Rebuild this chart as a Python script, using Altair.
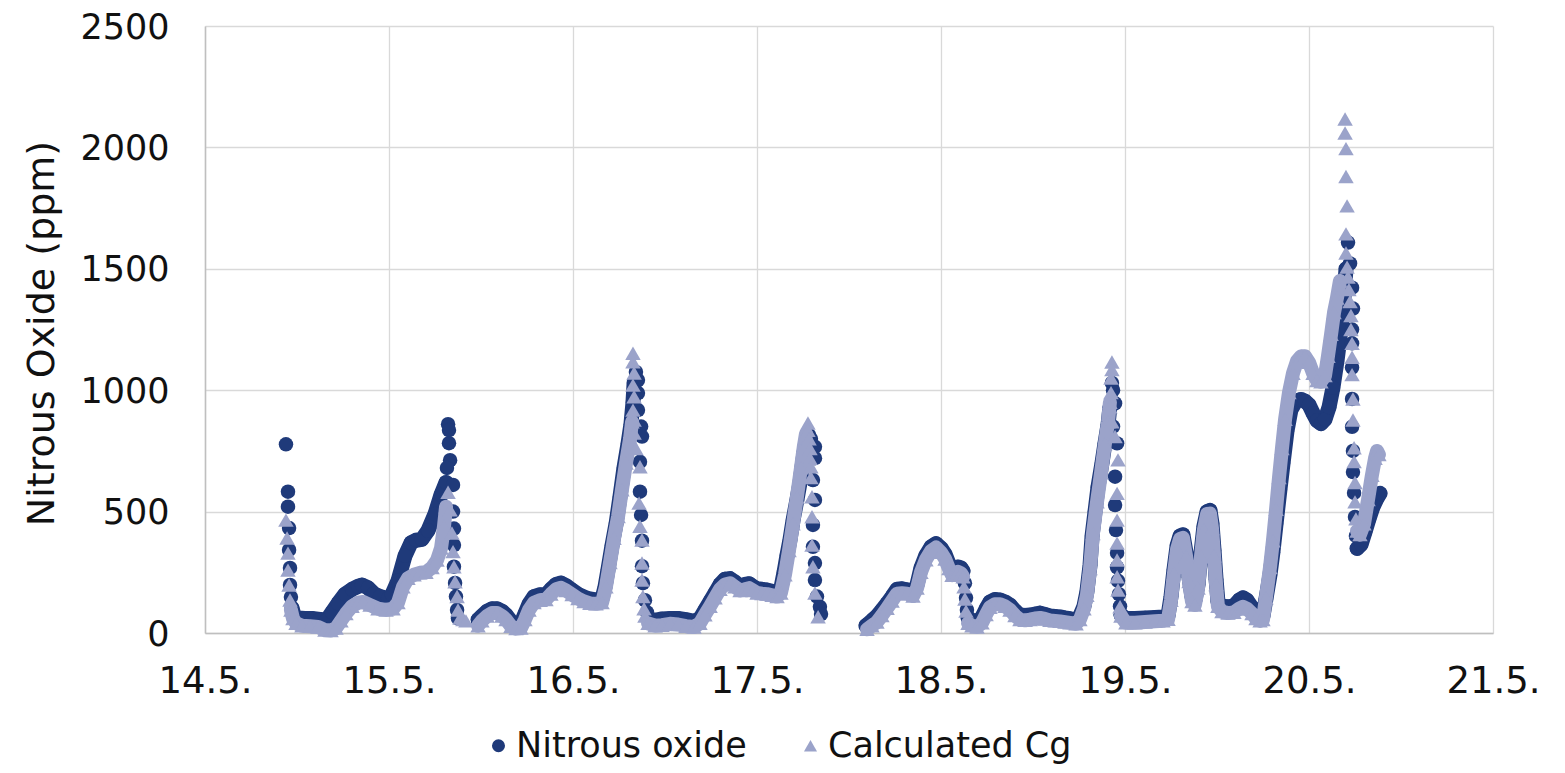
import json
import altair as alt
import pandas as pd

# ---------------- axis ticks ----------------
x_ticks = [14, 15, 16, 17, 18, 19, 20, 21]
x_tick_labels = ["14.5.", "15.5.", "16.5.", "17.5.", "18.5.", "19.5.", "20.5.", "21.5."]
y_ticks = [0, 500, 1000, 1500, 2000, 2500]

series_names = ["Nitrous oxide", "Calculated Cg"]
series_colors = ["#1f3a7a", "#9ba3ca"]
series_shapes = ["circle", "triangle-up"]

# ---------------- Nitrous oxide (measured) ----------------
n2o_day = [
    14.440, 14.451, 14.451, 14.457, 14.457, 14.462, 14.462, 14.467,
    14.473, 14.484, 14.505, 14.543, 14.582, 14.625, 14.658, 14.690, 14.723, 14.761,
    14.799, 14.832, 14.853, 14.886, 14.918, 14.951, 14.995, 15.016, 15.049, 15.087,
    15.120, 15.147, 15.179, 15.212, 15.250, 15.283, 15.310,
    15.321, 15.326, 15.326, 15.332, 15.315, 15.348, 15.348, 15.353, 15.353, 15.353,
    15.359, 15.364, 15.370, 15.375,
    15.484, 15.505, 15.533, 15.560, 15.587, 15.614, 15.636, 15.663, 15.690, 15.717,
    15.739, 15.761, 15.788, 15.821, 15.853, 15.880, 15.908, 15.935, 15.962, 15.995,
    16.027, 16.060, 16.092, 16.125, 16.158, 16.174, 16.190, 16.212, 16.234, 16.255,
    16.277, 16.299, 16.315, 16.326, 16.332,
    16.342, 16.353, 16.353, 16.353, 16.370, 16.375, 16.364, 16.364, 16.370, 16.375,
    16.375, 16.380, 16.391, 16.402,
    16.418, 16.446, 16.484, 16.527, 16.571, 16.614, 16.658, 16.690, 16.717, 16.745,
    16.772, 16.799, 16.826, 16.853, 16.880, 16.908, 16.935, 16.957, 16.978, 17.000,
    17.027, 17.054, 17.082, 17.109, 17.130, 17.147, 17.163, 17.179, 17.196, 17.217,
    17.234, 17.245, 17.255, 17.266,
    17.283, 17.293, 17.315, 17.315, 17.304, 17.315, 17.304, 17.304, 17.315, 17.315,
    17.326, 17.342, 17.348,
    17.592, 17.609, 17.630, 17.652, 17.679, 17.707, 17.734, 17.761, 17.788, 17.815,
    17.848, 17.870, 17.891, 17.918, 17.946, 17.973, 18.000, 18.022, 18.043, 18.060,
    18.076, 18.092, 18.109, 18.120,
    18.130, 18.136, 18.141,
    18.147, 18.168, 18.196, 18.223, 18.245, 18.266, 18.293, 18.321, 18.348, 18.375,
    18.402, 18.429, 18.457, 18.484, 18.511, 18.538, 18.565, 18.592, 18.620, 18.647,
    18.674, 18.701, 18.734, 18.755, 18.777, 18.793, 18.810, 18.821, 18.837, 18.853,
    18.875, 18.891, 18.908, 18.918,
    18.929, 18.935, 18.946, 18.935, 18.957, 18.946, 18.946, 18.951, 18.957, 18.957,
    18.962, 18.967, 18.973,
    18.978, 19.005, 19.054, 19.109, 19.163, 19.207, 19.234, 19.250, 19.266, 19.283,
    19.299, 19.315, 19.332, 19.348, 19.364, 19.380, 19.397, 19.413, 19.429, 19.446,
    19.462, 19.473, 19.484, 19.495, 19.505, 19.527, 19.560, 19.592, 19.620, 19.641,
    19.663, 19.690, 19.712, 19.734, 19.750, 19.766, 19.788, 19.804, 19.821, 19.842,
    19.859, 19.880, 19.902, 19.929, 19.957, 19.978, 20.000, 20.022, 20.043, 20.065,
    20.087, 20.109, 20.130, 20.152, 20.174, 20.190, 20.201,
    20.212, 20.223, 20.234, 20.239, 20.234, 20.234, 20.234, 20.234, 20.234, 20.239,
    20.239, 20.245, 20.250, 20.255,
    20.261, 20.283, 20.304, 20.326, 20.348, 20.370, 20.386,
]
n2o_ppm = [
    777, 582, 520, 432, 342, 268, 198, 148,
    103, 72, 62, 60, 60, 56, 50, 85, 122, 160,
    180, 192, 198, 186, 162, 150, 142, 158, 215, 318,
    372, 382, 386, 422, 490, 570, 620,
    860, 836, 782, 712, 680, 610, 500, 430, 362, 273,
    206, 150, 95, 60,
    55, 70, 90, 100, 100, 90, 75, 48, 38, 40,
    80, 120, 150, 158, 158, 180, 200, 206, 195, 177,
    160, 148, 140, 136, 142, 190, 260, 360, 450, 560,
    680, 780, 860, 950, 1030,
    1075, 1042, 988, 918, 850, 809, 705, 582, 486, 380,
    275, 205, 135, 85,
    55, 52, 58, 60, 60, 55, 48, 60, 95, 130,
    165, 200, 222, 224, 210, 192, 200, 203, 192, 182,
    180, 177, 172, 168, 185, 250, 320, 383, 465, 548,
    620, 685, 740, 790,
    815, 800, 767, 720, 630, 548, 445, 355, 288, 218,
    150, 108, 78,
    30, 40, 55, 70, 95, 122, 150, 180, 182, 178,
    168, 200, 268, 320, 355, 368, 350, 325, 285, 258,
    265, 272, 268, 255,
    205, 145, 95,
    62, 52, 45, 66, 100, 128, 138, 136, 128, 115,
    92, 74, 72, 74, 78, 82, 76, 70, 68, 66,
    62, 59, 53, 70, 110, 170, 280, 400, 500, 600,
    700, 780, 860, 930,
    1030, 1000, 946, 850, 781, 644, 527, 424, 330, 270,
    215, 160, 110,
    75, 60, 60, 62, 64, 66, 72, 150, 260, 360,
    400, 405, 330, 230, 150, 135, 200, 330, 440, 500,
    505, 450, 340, 220, 130, 110, 108, 112, 135, 145,
    135, 105, 80, 66, 70, 140, 240, 333, 450, 590,
    700, 830, 920, 955, 962, 955, 940, 905, 875, 862,
    880, 930, 1010, 1120, 1250, 1380, 1500,
    1608, 1522, 1422, 1336, 1250, 1193, 1093, 964, 849, 750,
    663, 577, 478, 400,
    348, 365, 415, 470, 520, 555, 575,
]
# run id of each point: 0 = isolated point, >0 = point belongs to a continuous run
n2o_run = ([0] * 8 + [1] * 27 + [0] * 14 + [2] * 35 + [0] * 14 + [3] * 34 + [0] * 13
           + [4] * 24 + [0] * 3 + [5] * 34 + [0] * 13 + [6] * 57 + [0] * 14 + [7] * 7)

# ---------------- Calculated Cg ----------------
cg_day = [
    14.440, 14.446, 14.451, 14.451, 14.457, 14.462,
    14.467, 14.478, 14.495, 14.527, 14.571, 14.614, 14.652, 14.685, 14.712, 14.739,
    14.766, 14.799, 14.832, 14.859, 14.897, 14.940, 14.984, 15.022, 15.049, 15.076,
    15.103, 15.136, 15.168, 15.201, 15.234, 15.261, 15.283, 15.299, 15.310,
    15.321, 15.332, 15.342, 15.348, 15.353, 15.359, 15.370, 15.375, 15.386, 15.402, 15.418,
    15.484, 15.505, 15.533, 15.560, 15.587, 15.614, 15.636, 15.663, 15.690, 15.717,
    15.739, 15.761, 15.788, 15.821, 15.853, 15.880, 15.908, 15.935, 15.962, 15.995,
    16.027, 16.060, 16.092, 16.125, 16.158, 16.179, 16.201, 16.223, 16.245, 16.266,
    16.288, 16.310, 16.321,
    16.326, 16.326, 16.332, 16.326, 16.332, 16.326, 16.332, 16.332, 16.342, 16.364,
    16.359, 16.364, 16.375, 16.375, 16.375, 16.380, 16.386, 16.391,
    16.408, 16.446, 16.484, 16.527, 16.571, 16.614, 16.658, 16.690, 16.717, 16.745,
    16.772, 16.799, 16.826, 16.853, 16.880, 16.908, 16.935, 16.957, 16.978, 17.000,
    17.027, 17.054, 17.082, 17.109, 17.130, 17.152, 17.174, 17.196, 17.217, 17.239,
    17.255, 17.266,
    17.277, 17.277, 17.283, 17.288, 17.288, 17.293, 17.293, 17.299, 17.299, 17.299,
    17.304, 17.315, 17.332,
    17.598, 17.625, 17.652, 17.679, 17.707, 17.734, 17.761, 17.788, 17.815, 17.848,
    17.870, 17.891, 17.918, 17.946, 17.973, 18.000, 18.022, 18.043, 18.060, 18.076,
    18.092, 18.109, 18.120,
    18.125, 18.130, 18.136,
    18.147, 18.168, 18.196, 18.223, 18.245, 18.266, 18.293, 18.321, 18.348, 18.375,
    18.402, 18.429, 18.457, 18.484, 18.511, 18.538, 18.565, 18.592, 18.620, 18.647,
    18.674, 18.701, 18.734, 18.755, 18.777, 18.793, 18.810, 18.826, 18.848, 18.870,
    18.891, 18.908, 18.918,
    18.924, 18.929, 18.929, 18.924, 18.918, 18.929, 18.946, 18.962, 18.957, 18.957,
    18.957, 18.957, 18.957, 18.962, 18.973,
    18.978, 19.005, 19.054, 19.109, 19.163, 19.207, 19.234, 19.250, 19.266, 19.283,
    19.299, 19.315, 19.332, 19.348, 19.364, 19.380, 19.397, 19.413, 19.429, 19.446,
    19.462, 19.473, 19.484, 19.495, 19.505, 19.527, 19.560, 19.592, 19.620, 19.641,
    19.663, 19.690, 19.712, 19.734, 19.750, 19.766, 19.788, 19.804, 19.821, 19.837,
    19.853, 19.870, 19.891, 19.913, 19.935, 19.957, 19.978, 20.000, 20.022, 20.043,
    20.065, 20.087, 20.103, 20.120, 20.136, 20.152, 20.168,
    20.196, 20.196, 20.201, 20.201, 20.207, 20.201, 20.201, 20.207, 20.212, 20.217,
    20.223, 20.228, 20.228, 20.234, 20.234, 20.234, 20.239, 20.239, 20.245, 20.245,
    20.250, 20.250, 20.255,
    20.261, 20.277, 20.299, 20.321, 20.342, 20.359, 20.370, 20.380,
]
cg_ppm = [
    465, 391, 329, 259, 198, 136,
    95, 60, 40, 30, 28, 25, 12, 10, 20, 50,
    80, 110, 125, 128, 115, 100, 95, 100, 125, 190,
    225, 240, 248, 250, 270, 300, 350, 440, 520,
    580, 507, 412, 335, 273, 211, 150, 95, 62, 55, 50,
    30, 50, 70, 82, 82, 70, 55, 28, 18, 20,
    55, 95, 125, 135, 138, 160, 180, 186, 175, 158,
    142, 130, 122, 120, 125, 190, 290, 390, 480, 590,
    700, 800, 870,
    1152, 1117, 1071, 1021, 973, 918, 877, 824, 760, 685,
    535, 440, 383, 288, 218, 150, 100, 70,
    40, 30, 32, 38, 35, 28, 25, 40, 75, 110,
    145, 180, 200, 205, 190, 175, 180, 185, 175, 165,
    162, 160, 155, 150, 165, 240, 340, 450, 560, 680,
    770, 820,
    865, 835, 800, 760, 720, 685, 640, 561, 479, 362,
    273, 165, 67,
    15, 30, 45, 72, 102, 132, 162, 164, 162, 152,
    185, 250, 302, 338, 352, 332, 305, 265, 238, 246,
    252, 246, 232,
    190, 140, 90,
    40, 30, 25, 42, 76, 106, 118, 118, 110, 95,
    72, 55, 52, 55, 60, 62, 58, 52, 50, 48,
    45, 42, 38, 55, 100, 155, 265, 410, 540, 660,
    780, 870, 950,
    1050, 1116, 1085, 990, 932, 870, 809, 713, 575, 465,
    370, 301, 232, 177, 108,
    70, 42, 42, 45, 48, 50, 56, 135, 245, 345,
    388, 392, 315, 212, 130, 115, 185, 315, 425, 490,
    492, 430, 318, 200, 110, 88, 82, 85, 100, 108,
    100, 80, 60, 50, 55, 145, 270, 380, 510, 640,
    760, 880, 990, 1070, 1120, 1140, 1140, 1115, 1070, 1040,
    1035, 1060, 1140, 1230, 1320, 1380, 1450,
    2117, 2059, 1995, 1880, 1759, 1644, 1565, 1507, 1466, 1415,
    1365, 1308, 1250, 1193, 1136, 1064, 964, 877, 763, 706,
    620, 540, 470,
    420, 405, 450, 550, 650, 720, 750, 735,
]
cg_run = ([0] * 6 + [1] * 29 + [0] * 11 + [2] * 33 + [0] * 18 + [3] * 32 + [0] * 13
          + [4] * 23 + [0] * 3 + [5] * 33 + [0] * 15 + [6] * 57 + [0] * 23 + [7] * 8)

assert len(n2o_day) == len(n2o_ppm) == len(n2o_run), (len(n2o_day), len(n2o_ppm), len(n2o_run))
assert len(cg_day) == len(cg_ppm) == len(cg_run), (len(cg_day), len(cg_ppm), len(cg_run))


def frame(days, ppm, run, name):
    return pd.DataFrame({"day": days, "ppm": ppm, "run": run, "series": name,
                         "idx": list(range(len(days)))})


df_n2o = frame(n2o_day, n2o_ppm, n2o_run, series_names[0])
df_cg = frame(cg_day, cg_ppm, cg_run, series_names[1])

FONT = "DejaVu Sans"
TEXT = "#111111"

x_enc = alt.X(
    "day:Q",
    scale=alt.Scale(domain=[x_ticks[0], x_ticks[-1]], nice=False, zero=False),
    axis=alt.Axis(
        values=x_ticks,
        labelExpr=json.dumps(x_tick_labels) + "[datum.value - " + str(x_ticks[0]) + "]",
        title=None, grid=True, ticks=False, labelFlush=False, labelOverlap=False,
        labelFont=FONT, labelFontSize=37, labelColor=TEXT, labelPadding=30,
        domainColor="#bfbfbf", domainWidth=1.5,
        gridColor="#d9d9d9", gridWidth=1.3,
    ),
)
y_enc = alt.Y(
    "ppm:Q",
    scale=alt.Scale(domain=[y_ticks[0], y_ticks[-1]], nice=False),
    axis=alt.Axis(
        values=y_ticks, format="d", grid=True, ticks=False, labelFlush=False,
        labelFont=FONT, labelFontSize=35, labelColor=TEXT, labelPadding=36,
        labelOffset=1,
        domainColor="#bfbfbf", domainWidth=1.5,
        gridColor="#d9d9d9", gridWidth=1.3,
        title="Nitrous Oxide (ppm)", titleFont=FONT, titleFontSize=38,
        titleFontWeight="normal", titleColor=TEXT,
        titleAngle=-90, titleX=-163, titleY=307,
        titleAlign="center", titleBaseline="middle",
    ),
)

color_scale = alt.Scale(domain=series_names, range=series_colors)
shape_scale = alt.Scale(domain=series_names, range=series_shapes)
legend = alt.Legend(
    title=None, orient="none", legendX=276, legendY=702, direction="horizontal",
    labelFont=FONT, labelFontSize=35, labelColor=TEXT, labelLimit=0,
    symbolSize=170, symbolStrokeWidth=0, labelOffset=0, columnPadding=46,
)


def band(df, color, width):
    return alt.Chart(df[df["run"] > 0]).mark_line(
        color=color, strokeWidth=width, strokeCap="round", strokeJoin="round"
    ).encode(x=x_enc, y=y_enc, detail="run:N", order="idx:Q")


def points(df, size):
    return alt.Chart(df).mark_point(
        filled=True, opacity=1, size=size, strokeWidth=0
    ).encode(
        x=x_enc, y=y_enc,
        color=alt.Color("series:N", scale=color_scale, legend=legend),
        shape=alt.Shape("series:N", scale=shape_scale, legend=legend),
    )


chart = alt.layer(
    band(df_n2o, series_colors[0], 15),
    points(df_n2o, 210),
    band(df_cg, series_colors[1], 14),
    points(df_cg, 240),
).properties(
    width=1288, height=607,
    padding={"left": 197, "top": 18, "right": 50, "bottom": 132},
    autosize=alt.AutoSizeParams(type="none"),
    background="white",
).configure_view(stroke=None)

chart.save("out.html", embed_options={"renderer": "svg", "actions": False})
